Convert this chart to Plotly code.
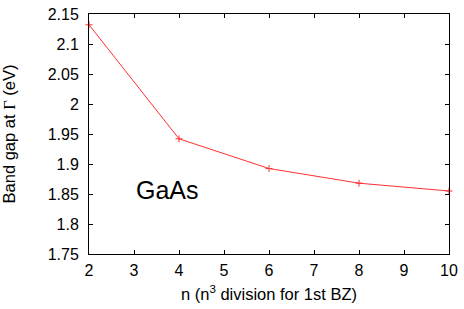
import plotly.graph_objects as go

n_values = [2, 4, 6, 8, 10]
band_gap = [2.132, 1.942, 1.8925, 1.868, 1.855]
x_ticks = [2, 3, 4, 5, 6, 7, 8, 9, 10]
y_ticks = [1.75, 1.8, 1.85, 1.9, 1.95, 2.0, 2.05, 2.1, 2.15]
y_tick_labels = ["1.75", "1.8", "1.85", "1.9", "1.95", "2", "2.05", "2.1", "2.15"]

fig = go.Figure()
fig.add_trace(go.Scatter(
    x=n_values, y=band_gap, mode="lines+markers",
    line=dict(color="#ff3030", width=1),
    marker=dict(symbol="cross-thin", size=5, line=dict(color="#ff3030", width=1)),
    showlegend=False, cliponaxis=False,
))

fam = "Liberation Sans, Arial, sans-serif"
tick_font = dict(family=fam, size=16, color="black")
title_font = dict(family=fam, size=16.5, color="black")
axis_common = dict(showline=True, linecolor="black", linewidth=1, mirror="ticks",
                   ticks="inside", ticklen=4, tickcolor="black", showgrid=False,
                   zeroline=False, tickfont=tick_font, ticklabeloverflow="allow")
fig.update_layout(
    width=464, height=309,
    margin=dict(l=89, r=12, t=6, b=55),
    paper_bgcolor="white", plot_bgcolor="white",
    font=tick_font,
    xaxis=dict(range=[2, 10], tickvals=x_ticks, ticklabelstandoff=2,
               title=dict(text="n (n<sup>3</sup> division for 1st BZ)", font=title_font, standoff=10),
               **axis_common),
    yaxis=dict(range=[1.75, 2.15], tickvals=y_ticks, ticktext=y_tick_labels, ticklabelstandoff=6,
               title=dict(text="Band gap at <span style=\"font-family:'Liberation Serif', serif\">Γ</span> (eV)",
                          font=title_font, standoff=28),
               **axis_common),
    annotations=[dict(x=3.75, y=1.856, text="GaAs", showarrow=False,
                      font=dict(family=fam, size=25, color="black"))],
)
fig.write_html("out.html", config={"displayModeBar": False},
               post_script="document.body.style.margin='0';")
